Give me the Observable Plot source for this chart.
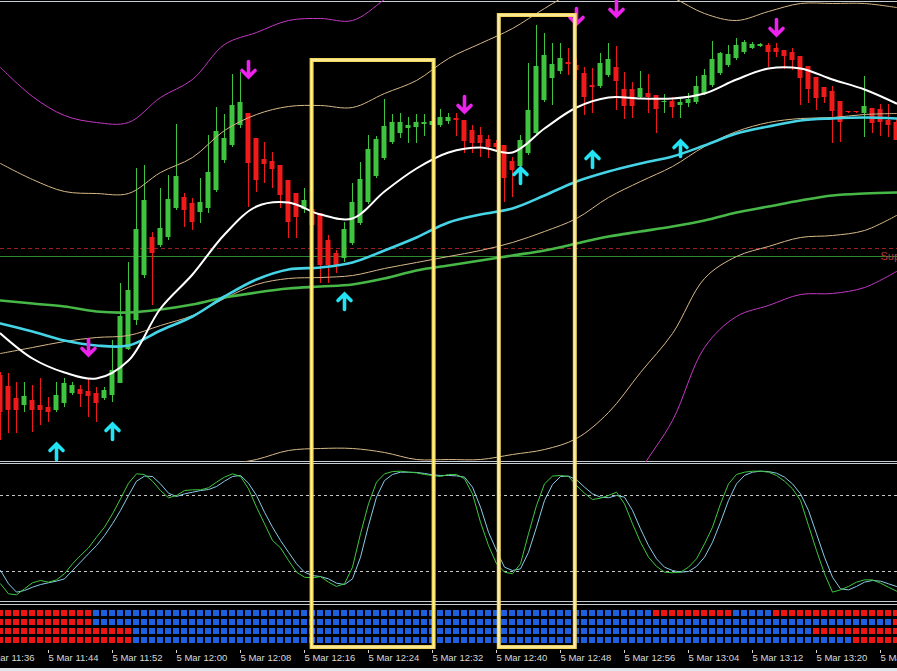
<!DOCTYPE html>
<html>
<head>
<meta charset="utf-8">
<script src="https://cdn.jsdelivr.net/npm/d3@7"></script>
<script src="https://cdn.jsdelivr.net/npm/@observablehq/plot@0.6"></script>
<style>
  html, body { margin: 0; padding: 0; background: #000; }
  #chart { width: 897px; height: 671px; background: #000; overflow: hidden; }
  #chart svg { display: block; overflow: hidden; background: #000; }
  #strip { height: 3px; background: #dfe6ec; }
</style>
</head>
<body>
<div id="chart"></div>
<script>
// ---------- candles (1-minute bars, bar 0 = 5 Mar 11:38) ----------
const open = [
1.36085,1.36074,1.36062,1.36055,1.36060,1.36055,1.36053,1.36050,1.36057,1.36067,
1.36071,1.36069,1.36067,1.36062,1.36065,1.36077,1.36111,1.36140,1.36185,1.36223,
1.36215,1.36223,1.36252,1.36263,1.36257,1.36248,1.36252,1.36270,1.36300,1.36315,
1.36335,1.36347,1.36322,1.36301,1.36299,1.36295,1.36280,1.36267,1.36251,1.36251,
1.36247,1.36220,1.36207,1.36202,1.36217,1.36237,1.36258,1.36284,1.36302,1.36318,
1.36327,1.36332,1.36333,1.36336,1.36335,1.36335,1.36339,1.36342,1.36340,1.36330,
1.36325,1.36321,1.36317,1.36315,1.36299,1.36294,1.36307,1.36327,1.36360,1.36382,
1.36389,1.36398,1.36395,1.36387,1.36375,1.36374,1.36385,1.36393,1.36371,1.36371,
1.36363,1.36367,1.36365,1.36358,1.36359,1.36355,1.36357,1.36358,1.36367,1.36375,
1.36387,1.36395,1.36402,1.36408,1.36412,1.36414,1.36415,1.36412,1.36410,1.36408,
1.36404,1.36394,1.36383,1.36373,1.36369,1.36359,1.36349,1.36349,1.36347,1.36352,
1.36351,1.36340,1.36338];
const high = [
1.36088,1.36087,1.36078,1.36078,1.36075,1.36082,1.36063,1.36078,1.36082,1.36078,
1.36075,1.36082,1.36073,1.36073,1.36120,1.36177,1.36198,1.36292,1.36295,1.36228,
1.36272,1.36285,1.36336,1.36267,1.36262,1.36282,1.36325,1.36353,1.36346,1.36386,
1.36388,1.36347,1.36322,1.36318,1.36308,1.36295,1.36280,1.36267,1.36272,1.36255,
1.36247,1.36225,1.36210,1.36238,1.36277,1.36298,1.36325,1.36324,1.36361,1.36346,
1.36347,1.36343,1.36346,1.36346,1.36348,1.36351,1.36347,1.36347,1.36340,1.36335,
1.36333,1.36325,1.36320,1.36315,1.36303,1.36325,1.36397,1.36435,1.36427,1.36417,
1.36417,1.36412,1.36402,1.36393,1.36392,1.36407,1.36417,1.36414,1.36388,1.36378,
1.36389,1.36386,1.36365,1.36366,1.36363,1.36363,1.36367,1.36384,1.36391,1.36419,
1.36408,1.36415,1.36422,1.36420,1.36418,1.36417,1.36417,1.36417,1.36410,1.36412,
1.36404,1.36394,1.36383,1.36373,1.36374,1.36359,1.36349,1.36349,1.36384,1.36352,
1.36356,1.36356,1.36342];
const low = [
1.36020,1.36027,1.36027,1.36048,1.36028,1.36035,1.36038,1.36048,1.36053,1.36065,
1.36053,1.36043,1.36038,1.36060,1.36058,1.36077,1.36110,1.36135,1.36182,1.36155,
1.36213,1.36220,1.36250,1.36233,1.36230,1.36237,1.36247,1.36268,1.36297,1.36313,
1.36332,1.36253,1.36268,1.36277,1.36272,1.36252,1.36222,1.36222,1.36247,1.36230,
1.36177,1.36177,1.36187,1.36198,1.36215,1.36235,1.36256,1.36282,1.36300,1.36316,
1.36322,1.36317,1.36317,1.36324,1.36325,1.36333,1.36336,1.36324,1.36307,1.36307,
1.36303,1.36302,1.36310,1.36258,1.36263,1.36292,1.36305,1.36325,1.36358,1.36355,
1.36386,1.36385,1.36380,1.36345,1.36347,1.36372,1.36383,1.36350,1.36341,1.36342,
1.36361,1.36347,1.36327,1.36347,1.36342,1.36342,1.36353,1.36356,1.36365,1.36373,
1.36385,1.36393,1.36400,1.36406,1.36411,1.36413,1.36393,1.36403,1.36391,1.36390,
1.36355,1.36357,1.36350,1.36357,1.36317,1.36318,1.36347,1.36347,1.36323,1.36327,
1.36324,1.36323,1.36320];
const close = [
1.36048,1.36050,1.36050,1.36064,1.36050,1.36050,1.36048,1.36065,1.36077,1.36075,
1.36066,1.36064,1.36057,1.36070,1.36090,1.36144,1.36170,1.36231,1.36260,1.36207,
1.36232,1.36261,1.36284,1.36250,1.36238,1.36258,1.36288,1.36329,1.36322,1.36355,
1.36358,1.36297,1.36280,1.36296,1.36291,1.36265,1.36238,1.36243,1.36260,1.36235,
1.36195,1.36195,1.36195,1.36231,1.36258,1.36281,1.36311,1.36321,1.36334,1.36338,
1.36338,1.36335,1.36338,1.36338,1.36339,1.36343,1.36343,1.36340,1.36319,1.36317,
1.36317,1.36313,1.36313,1.36282,1.36290,1.36320,1.36350,1.36394,1.36405,1.36396,
1.36402,1.36396,1.36390,1.36363,1.36373,1.36397,1.36401,1.36379,1.36354,1.36354,
1.36372,1.36363,1.36351,1.36359,1.36353,1.36358,1.36361,1.36374,1.36385,1.36401,
1.36407,1.36406,1.36415,1.36418,1.36416,1.36416,1.36408,1.36408,1.36404,1.36400,
1.36382,1.36371,1.36362,1.36363,1.36349,1.36338,1.36348,1.36348,1.36354,1.36337,
1.36338,1.36335,1.36320];

// ---------- indicator lines, read every 4 bars ----------
const lineStep = 4;
const maWhite = [1.36127,1.36102,1.36088,1.36082,1.36100,1.36152,1.36186,1.36226,1.36254,1.36258,1.36246,1.36242,1.36269,1.36292,1.36308,1.36313,1.36308,1.36332,1.36353,1.36363,1.36362,1.36362,1.36367,1.36381,1.36392,1.36392,1.36381,1.36371,1.36357];
const maCyan = [1.36137,1.36129,1.36120,1.36115,1.36115,1.36130,1.36144,1.36164,1.36181,1.36191,1.36193,1.36198,1.36210,1.36223,1.36238,1.36246,1.36252,1.36265,1.36279,1.36289,1.36297,1.36304,1.36315,1.36327,1.36334,1.36340,1.36342,1.36343,1.36342];
const maGreen = [1.36160,1.36157,1.36154,1.36149,1.36148,1.36151,1.36156,1.36163,1.36168,1.36172,1.36174,1.36176,1.36182,1.36190,1.36195,1.36200,1.36205,1.36210,1.36217,1.36224,1.36229,1.36234,1.36240,1.36248,1.36254,1.36260,1.36265,1.36267,1.36268];
const bandUpper = [1.36297,1.36281,1.36269,1.36267,1.36267,1.36288,1.36303,1.36330,1.36346,1.36354,1.36355,1.36353,1.36367,1.36380,1.36402,1.36417,1.36432,1.36452,1.36470,1.36480,1.36475,1.36463,1.36447,1.36440,1.36449,1.36457,1.36457,1.36457,1.36453];
const bandMiddle = [1.36107,1.36113,1.36119,1.36123,1.36125,1.36135,1.36145,1.36162,1.36176,1.36182,1.36183,1.36185,1.36192,1.36198,1.36204,1.36210,1.36218,1.36229,1.36242,1.36263,1.36279,1.36294,1.36314,1.36329,1.36338,1.36342,1.36343,1.36346,1.36347];
const bandLower = [1.35900,1.35920,1.35940,1.35955,1.35970,1.35980,1.35988,1.35995,1.36001,1.36010,1.36012,1.36012,1.36008,1.36001,1.36001,1.36001,1.36006,1.36011,1.36022,1.36048,1.36088,1.36127,1.36182,1.36204,1.36214,1.36223,1.36225,1.36230,1.36245];
const outerUpper = [1.36393,1.36364,1.36345,1.36338,1.36338,1.36363,1.36381,1.36416,1.36428,1.36440,1.36442,1.36440,1.36461,1.36485,1.36505,1.36525,1.36550,1.36580,1.36610,1.36630,1.36630,1.36620,1.36600,1.36580,1.36585,1.36590,1.36590,1.36590,1.36585];
const outerLower = [1.35760,1.35770,1.35780,1.35790,1.35800,1.35805,1.35810,1.35820,1.35830,1.35840,1.35845,1.35848,1.35850,1.35850,1.35848,1.35848,1.35850,1.35860,1.35880,1.35930,1.35990,1.36040,1.36113,1.36144,1.36155,1.36166,1.36167,1.36173,1.36189];

// ---------- horizontal levels ----------
const dashedLevel = 1.36212;
const supportLevel = 1.36204;
const supportLabel = "Support";

// ---------- signal arrows (bar index, price at arrow tip) ----------
const sellBars = [11, 31, 58, 72, 77, 97];
const sellPrices = [1.36104, 1.36382, 1.36347, 1.36435, 1.36443, 1.36424];
const buyBars = [7, 14, 43, 65, 74, 85];
const buyPrices = [1.36018, 1.36038, 1.36168, 1.36294, 1.36310, 1.36321];

// ---------- highlight boxes (bar index span, top price) ----------
const boxFrom = [38.95, 62.35];
const boxTo = [54.2, 71.85];
const boxTop = [1.36400, 1.36445];

// ---------- stochastic ----------
const stochK = [
10.3,2.4,1.6,6.3,11.1,12.9,11.6,13.4,18.2,26.1,
32.6,38.7,47.1,55.0,65.5,77.4,89.7,97.1,96.6,91.3,
83.9,78.2,80.0,83.9,84.5,84.5,86.1,90.5,94.5,97.1,
95.0,85.3,70.8,57.7,44.5,38.7,28.7,19.5,15.5,15.0,
16.0,11.6,8.2,10.3,23.4,49.8,73.4,90.5,97.1,98.9,
99.2,98.4,97.9,96.6,95.8,95.0,96.6,96.6,93.2,81.3,
58.9,40.5,26.1,19.5,18.2,26.1,49.8,72.1,89.2,95.3,
95.8,95.0,87.9,81.8,76.8,77.9,80.0,82.6,73.4,57.7,
43.1,31.3,24.0,19.5,19.0,19.5,23.4,30.0,41.8,55.0,
73.4,89.2,96.6,98.4,99.2,99.2,98.4,95.8,91.3,85.3,
76.1,56.3,36.6,18.2,3.7,5.5,8.2,11.6,13.4,13.4,
10.8,7.6,4.5];
const stochD = [
20.8,10.3,3.7,5.0,7.6,9.7,11.1,12.4,14.2,20.8,
27.4,34.0,40.5,48.4,57.7,68.2,80.0,91.3,95.3,95.0,
89.2,81.8,79.2,81.3,82.6,83.9,84.7,87.1,91.3,95.0,
95.8,89.7,80.0,66.8,55.0,44.5,35.2,26.1,19.5,16.8,
16.0,14.2,10.8,9.7,14.2,31.3,56.3,78.7,91.8,96.6,
98.4,98.4,98.2,97.4,96.3,95.8,95.8,95.5,94.5,86.6,
70.8,51.0,36.6,23.4,20.8,22.1,35.2,55.0,76.1,88.7,
95.0,95.3,92.4,86.6,81.3,78.7,78.2,80.0,78.7,68.2,
53.7,40.5,30.0,23.4,20.8,19.5,20.0,24.0,31.3,43.1,
58.9,76.1,89.2,95.8,98.4,99.2,98.9,97.6,94.5,89.2,
81.3,68.2,49.8,31.3,15.5,6.3,5.5,8.2,11.6,12.9,
12.4,10.3,8.2];
const stochLevels = [80, 20];

// ---------- trend strip (run lengths per row, R = down, B = up) ----------
const stripRow1 = [["R",12],["B",70],["R",10],["B",5],["R",16]];
const stripRow2 = [["R",12],["B",100],["R",1]];
const stripRow3 = [["R",17],["B",85],["R",11]];
const stripRow4 = [["R",17],["B",90],["R",6]];

// ---------- time axis ----------
const tickBars = [-2, 6, 14, 22, 30, 38, 46, 54, 62, 70, 78, 86, 94, 102, 110];
const tickLabels = ["5 Mar 11:36","5 Mar 11:44","5 Mar 11:52","5 Mar 12:00","5 Mar 12:08","5 Mar 12:16","5 Mar 12:24","5 Mar 12:32","5 Mar 12:40","5 Mar 12:48","5 Mar 12:56","5 Mar 13:04","5 Mar 13:12","5 Mar 13:20","5 Mar 13:28"];

// ================= build =================
const UP = "#3ec43e", DOWN = "#f01a1a", SEP = "#c4ccd4", YEL = "#f3d65e", YEL2 = "#fff3b8";
const xOpt = {domain: [0, 112.125], axis: null};

const bars = open.map((o, i) => ({i, open: o, high: high[i], low: low[i], close: close[i]}));
const lineRows = maWhite.map((_, j) => ({
  k: j * lineStep, white: maWhite[j], cyan: maCyan[j], green: maGreen[j],
  bu: bandUpper[j], bm: bandMiddle[j], bl: bandLower[j], ou: outerUpper[j], ol: outerLower[j]
}));
const sells = sellBars.map((k, i) => ({k, p: sellPrices[i]}));
const buys = buyBars.map((k, i) => ({k, p: buyPrices[i]}));
const boxes = boxFrom.map((f, i) => ({f, t: boxTo[i], top: boxTop[i]}));
const stoch = stochK.map((v, i) => ({i, k: v, d: stochD[i]}));
const cells = [];
[stripRow1, stripRow2, stripRow3, stripRow4].forEach((runs, r) => {
  let k = 0;
  for (const [c, n] of runs) for (let j = 0; j < n; j++) cells.push({k: k++, row: r + 1, c});
});
const labelOf = new Map(tickBars.map((b, i) => [b, tickLabels[i]]));

const arrowShape = {
  draw(ctx, l) {
    const w = 6.5;
    ctx.moveTo(0, 0);
    ctx.lineTo(0, -l + 2);
    ctx.moveTo(-w, -l + w + 1.5);
    ctx.lineTo(0, -l + 1.5);
    ctx.lineTo(w, -l + w + 1.5);
  }
};

const boxMarks = (y1, y2) => [
  Plot.rect(boxes, {x1: "f", x2: "t", y1, y2, fill: "none", stroke: YEL, strokeWidth: 4}),
  Plot.rect(boxes, {x1: "f", x2: "t", y1, y2, fill: "none", stroke: YEL2, strokeWidth: 1.2})
];

const bandLine = (key, color, w) => Plot.line(lineRows, {x: "k", y: key, stroke: color, strokeWidth: w, curve: "catmull-rom"});

const main = Plot.plot({
  width: 897, height: 462, marginTop: 1, marginBottom: 1, marginLeft: 0, marginRight: 0,
  style: {background: "#000"},
  x: xOpt,
  y: {domain: [1.35999, 1.36459], axis: null},
  marks: [
    Plot.frame({anchor: "top", stroke: SEP}),
    Plot.frame({anchor: "bottom", stroke: SEP}),
    Plot.ruleY([dashedLevel], {stroke: "#9c2020", strokeDasharray: "4,3"}),
    Plot.ruleY([supportLevel], {stroke: "#2f8a2f"}),
    Plot.ruleX(bars, {x: "i", y1: "low", y2: "high", stroke: d => d.close >= d.open ? UP : DOWN}),
    Plot.rect(bars, {x1: d => d.i - 0.3125, x2: d => d.i + 0.3125, y1: "open", y2: "close", fill: d => d.close >= d.open ? UP : DOWN}),
    bandLine("ou", "#c636c6", 1),
    bandLine("ol", "#c636c6", 1),
    bandLine("bu", "#d8b888", 1),
    bandLine("bm", "#d8b888", 1),
    bandLine("bl", "#d8b888", 1),
    bandLine("green", "#47b847", 2.6),
    bandLine("cyan", "#44d4e6", 2.6),
    bandLine("white", "#ffffff", 2),
    Plot.vector(buys, {x: "k", y: "p", length: 17, rotate: 0, anchor: "end", shape: arrowShape, stroke: "#22e4f4", strokeWidth: 3.6, strokeLinejoin: "miter"}),
    Plot.vector(sells, {x: "k", y: "p", length: 17, rotate: 180, anchor: "end", shape: arrowShape, stroke: "#ee22ee", strokeWidth: 3.6, strokeLinejoin: "miter"}),
    Plot.text([supportLabel], {x: 110, y: supportLevel, text: d => d, textAnchor: "start", lineAnchor: "middle", fill: "#b83434", fontSize: 11, fontFamily: "Liberation Sans"}),
    ...boxMarks("top", () => 1.355)
  ]
});

const stochPlot = Plot.plot({
  width: 897, height: 141, marginTop: 1, marginBottom: 2, marginLeft: 0, marginRight: 0,
  style: {background: "#000"},
  x: xOpt,
  y: {domain: [-3.68, 105.26], axis: null},
  marks: [
    Plot.frame({anchor: "top", stroke: SEP}),
    Plot.frame({anchor: "bottom", stroke: SEP}),
    Plot.ruleY(stochLevels, {stroke: "#c8c8c8", strokeDasharray: "3,3"}),
    Plot.line(stoch, {x: "i", y: "d", stroke: "#86cce6", strokeWidth: 1}),
    Plot.line(stoch, {x: "i", y: "k", stroke: "#3ec83e", strokeWidth: 1}),
    ...boxMarks(() => 140, () => -40)
  ]
});

const heat = Plot.plot({
  width: 897, height: 47, marginTop: 1, marginBottom: 0, marginLeft: 0, marginRight: 0,
  style: {background: "#000"},
  x: xOpt,
  y: {domain: [1, 4], range: [10, 37], axis: null},
  marks: [
    Plot.frame({anchor: "top", stroke: SEP}),
    Plot.rect(cells, {x1: d => d.k - 0.5, x2: d => d.k + 0.5, y1: d => d.row - 1/3, y2: d => d.row + 1/3, insetLeft: 1, insetRight: 1, fill: d => d.c === "R" ? "#ee1414" : "#1e5fe0"}),
    ...boxMarks(() => -3, () => 4.78)
  ]
});

const axis = Plot.plot({
  width: 897, height: 18, marginTop: 0, marginBottom: 18, marginLeft: 0, marginRight: 0,
  style: {background: "#000", color: "#d8d8d8"},
  x: xOpt,
  marks: [
    Plot.axisX(tickBars, {anchor: "bottom", tickSize: 3, tickPadding: 1, textAnchor: "start", tickFormat: d => labelOf.get(d), fontSize: 9.5, fontFamily: "Liberation Sans"})
  ]
});

const chart = document.getElementById("chart");
chart.append(main, stochPlot, heat, axis);
const strip = document.createElement("div");
strip.id = "strip";
chart.append(strip);
</script>
</body>
</html>
